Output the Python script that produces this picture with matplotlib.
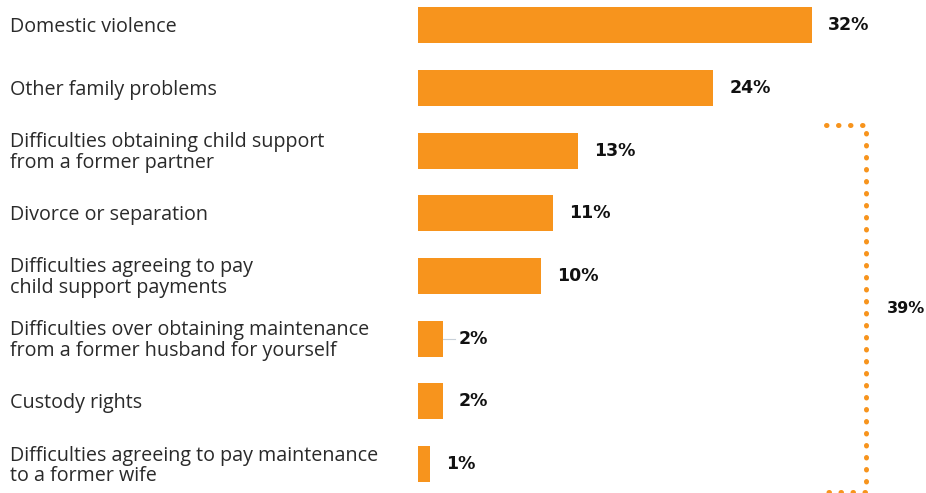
import matplotlib.pyplot as plt
from matplotlib.transforms import blended_transform_factory

plt.rcParams['font.family'] = ['Open Sans', 'DejaVu Sans']

reasons = ['Domestic violence',
           'Other family problems',
           'Difficulties obtaining child support\nfrom a former partner',
           'Divorce or separation',
           'Difficulties agreeing to pay\nchild support payments',
           'Difficulties over obtaining maintenance\nfrom a former husband for yourself',
           'Custody rights',
           'Difficulties agreeing to pay maintenance\nto a former wife']
shares = [32, 24, 13, 11, 10, 2, 2, 1]

orange = '#F7941D'

fig = plt.figure(figsize=(9.26, 4.93), dpi=100)
ax = fig.add_axes([0, 0, 1, 1])

ypos = list(range(len(shares)))
ax.barh(ypos, shares, height=0.575, color=orange)

ax.set_xlim(-34.0, 41.3)
ax.set_ylim(7.46, -0.40)
ax.axis('off')

# category names, left aligned against the figure edge
lab_tr = blended_transform_factory(fig.transFigure, ax.transData)
for y, name in zip(ypos, reasons):
    ax.text(0.011, y + 0.03, name, transform=lab_tr, ha='left', va='center',
            fontsize=14.2, color='#2a2a2a', linespacing=1.05)

# value labels next to the bars
for y, v in zip(ypos, shares):
    ax.text(v + 1.3, y, f'{v}%', ha='left', va='center',
            fontsize=12.5, fontweight='bold', color='#111111',
            family='DejaVu Sans')

# small leader line on the first 2% bar
ax.plot([shares[5], shares[5] + 1.0], [5, 5], color='#c8d0d8', lw=0.8)

# dotted bracket grouping the smaller reasons
br_tr = blended_transform_factory(fig.transFigure, ax.transData)
x0, x1 = 0.892, 0.935
top, bot = 1.60, 7.44
ax.plot([x0, x1, x1, x0], [top, top, bot, bot], transform=br_tr,
        color=orange, lw=3.6, linestyle=(0, (0.1, 2.3)),
        dash_capstyle='round', clip_on=False)
group_total = sum(shares[2:])
ax.text(0.978, (top + bot) / 2, f'{group_total}%', transform=br_tr,
        ha='center', va='center', fontsize=11.5, fontweight='bold',
        color='#111111', family='DejaVu Sans')

fig.savefig('out.png', dpi=100)
